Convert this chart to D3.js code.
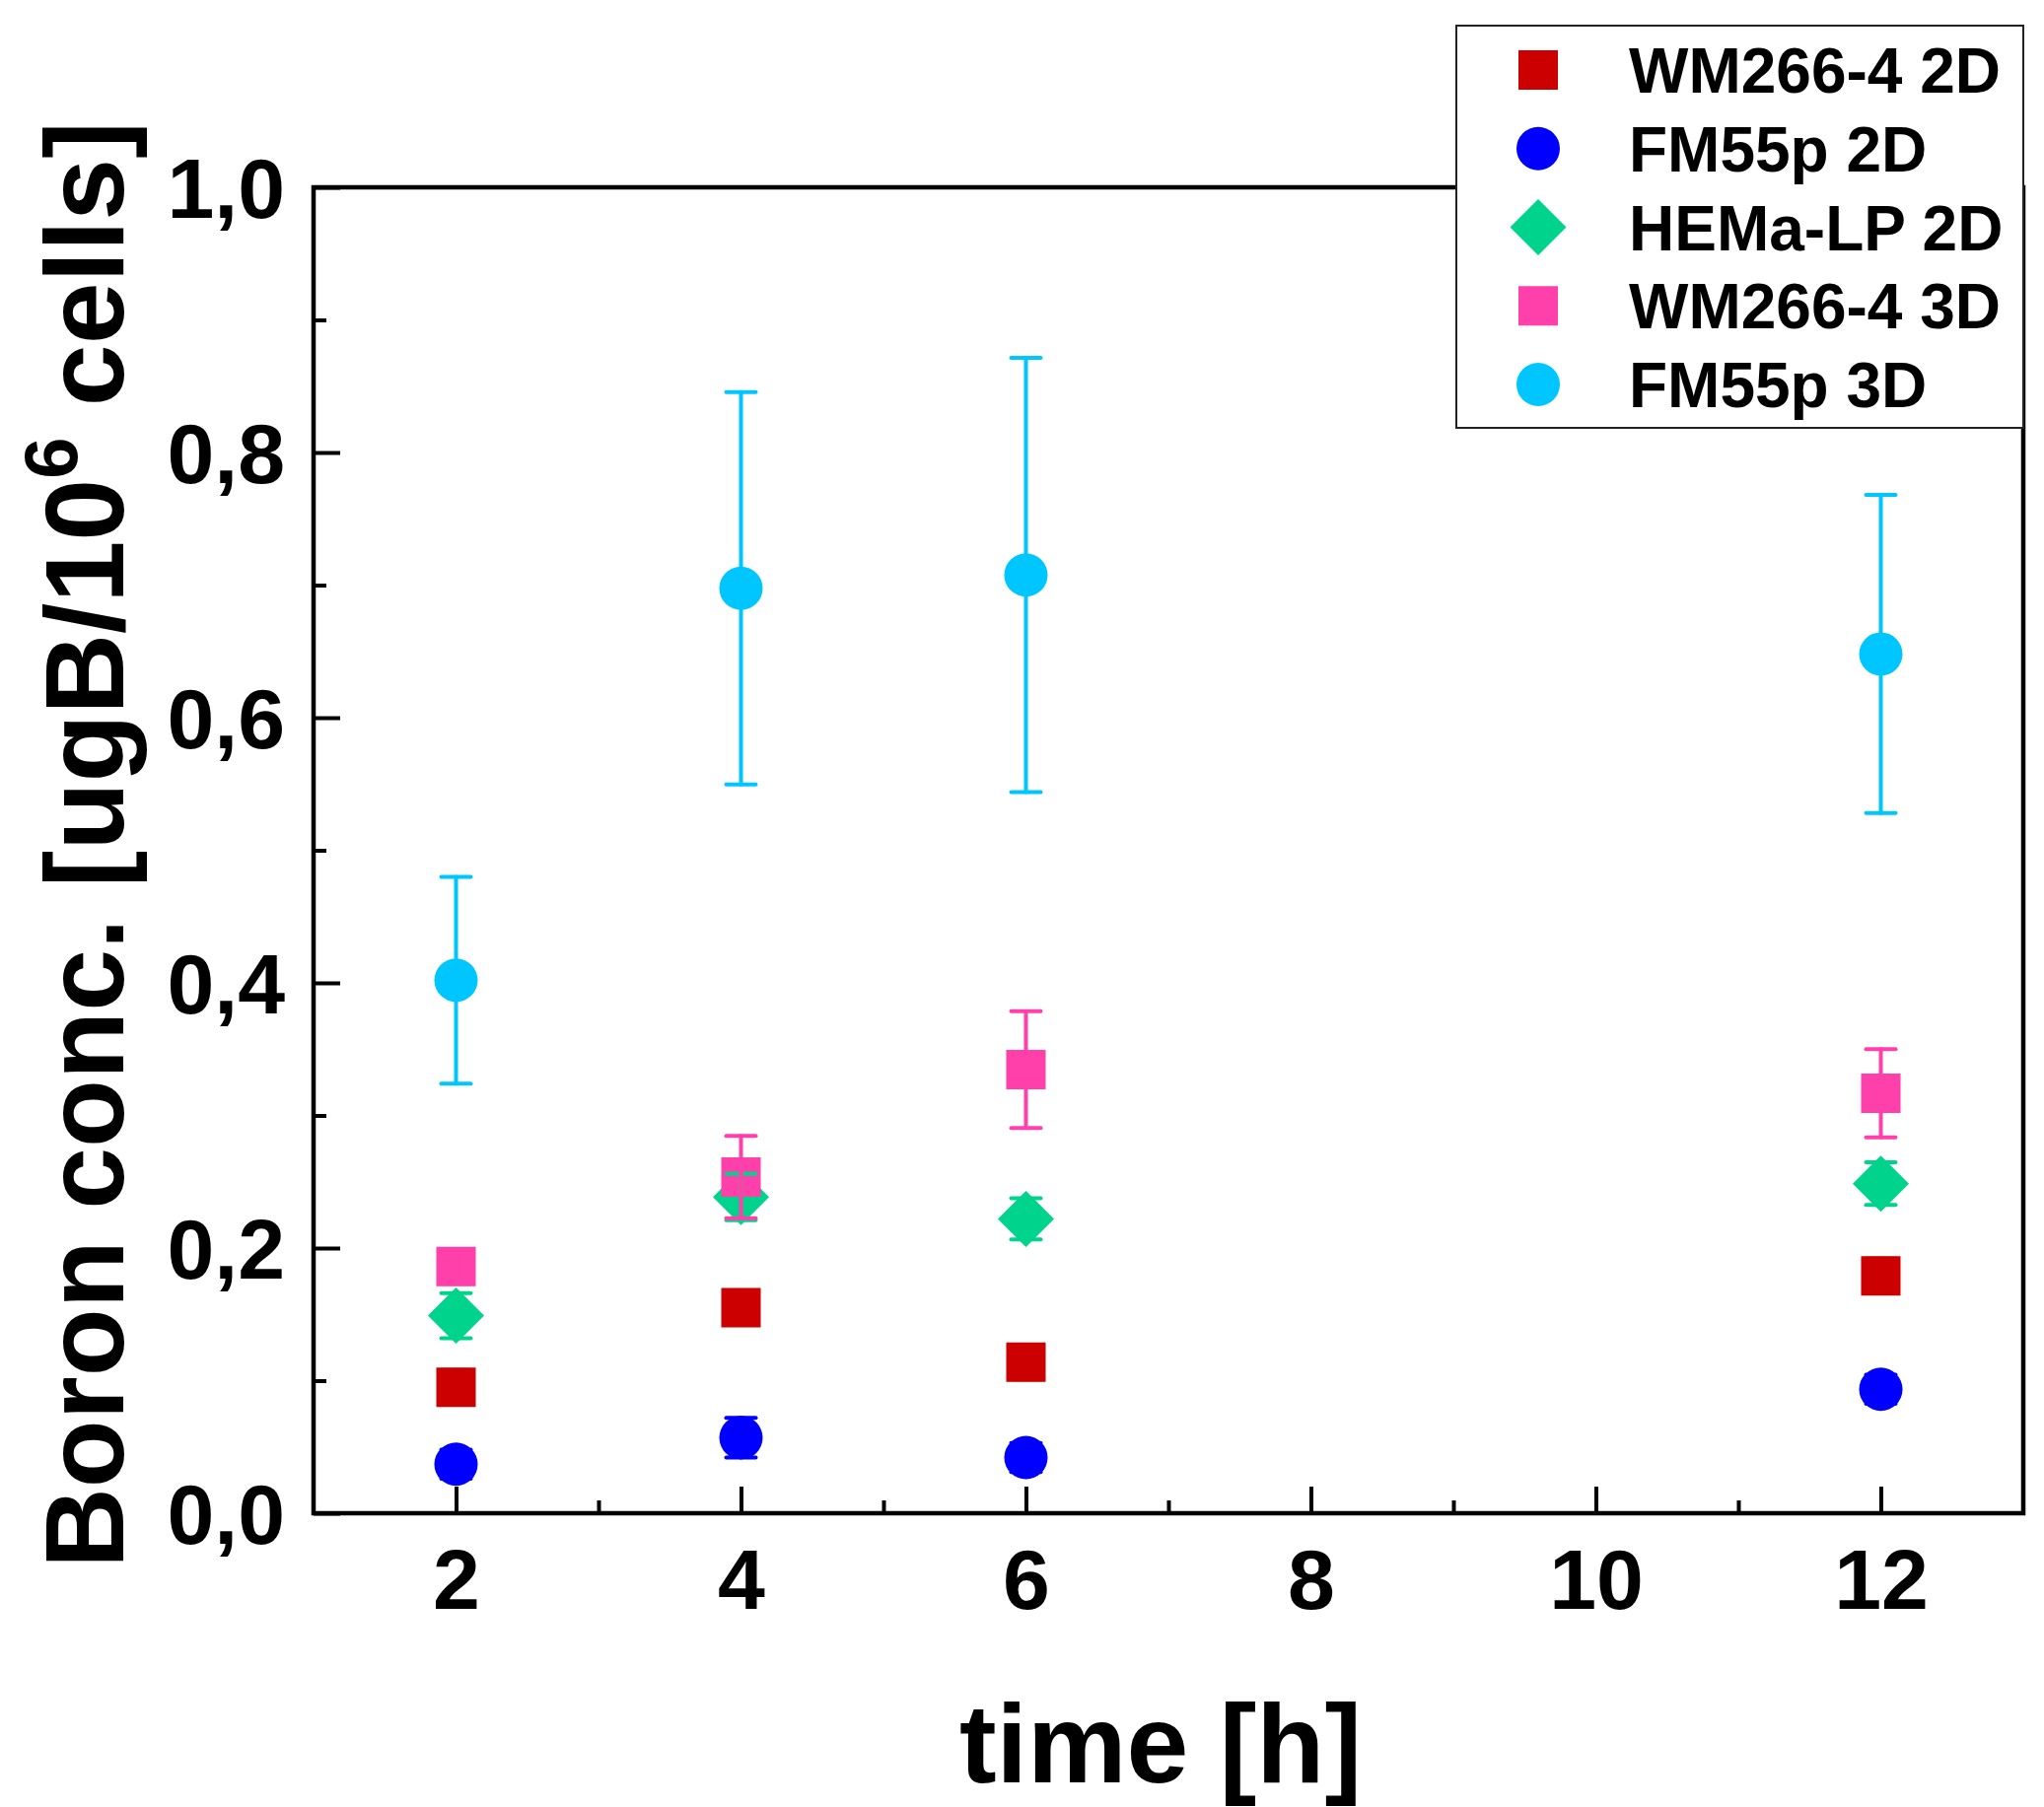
<!DOCTYPE html>
<html>
<head>
<meta charset="utf-8">
<script src="https://cdn.jsdelivr.net/npm/d3@7"></script>
<style>
  body { margin: 0; background: #fff; }
  svg text { font-family: "Liberation Sans", Arial, sans-serif; font-weight: bold; fill: #000; }
</style>
</head>
<body>
<div id="chart"></div>
<script>
// ---------------- data ----------------
var times = [2, 4, 6, 12];

var seriesNames = ["WM266-4 2D", "FM55p 2D", "HEMa-LP 2D", "WM266-4 3D", "FM55p 3D"];

var wm2D      = [0.095, 0.155, 0.114, 0.179];
var wm2DErr   = [0.013, 0.013, 0.013, 0.013];
var fm2D      = [0.037, 0.057, 0.042, 0.0935];
var fm2DErr   = [0.011, 0.015, 0.011, 0.011];
var hema2D    = [0.149, 0.2385, 0.222, 0.2486];
var hema2DErr = [0.017, 0.0175, 0.0155, 0.016];
var wm3D      = [0.186, 0.2535, 0.3346, 0.3167];
var wm3DErr   = [0.013, 0.031, 0.044, 0.0333];
var fm3D      = [0.402, 0.6976, 0.7076, 0.648];
var fm3DErr   = [0.078, 0.148, 0.1638, 0.12];

var xMajor = [2, 4, 6, 8, 10, 12];
var xMinor = [3, 5, 7, 9, 11];
var yMajor = [0, 0.2, 0.4, 0.6, 0.8, 1.0];
var yMinor = [0.1, 0.3, 0.5, 0.7, 0.9];

var colors = ["#cc0000", "#0000ff", "#00d38c", "#ff3faa", "#00c6ff"];
var shapes = ["square", "circle", "diamond", "square", "circle"];

var series = [
  {vals: wm2D, errs: wm2DErr},
  {vals: fm2D, errs: fm2DErr},
  {vals: hema2D, errs: hema2DErr},
  {vals: wm3D, errs: wm3DErr},
  {vals: fm3D, errs: fm3DErr}
].map(function(s, i) {
  return {
    name: seriesNames[i], color: colors[i], shape: shapes[i],
    points: times.map(function(t, j) { return {t: t, v: s.vals[j], e: s.errs[j]}; })
  };
});

// ---------------- layout ----------------
var W = 2073, H = 1833;
var plotL = 318, plotR = 2052, plotT = 190, plotB = 1535;

var svg = d3.select("#chart").append("svg")
    .attr("width", W).attr("height", H);

var x = d3.scaleLinear().domain([1, 13]).range([plotL, plotR]);
var y = d3.scaleLinear().domain([0, 1]).range([plotB, plotT]);

var comma = d3.formatLocale({decimal: ",", thousands: ".", grouping: [3], currency: ["", ""]}).format(".1f");

// x axis (ticks point into the plot)
svg.append("g")
    .attr("transform", "translate(0," + plotB + ")")
    .call(d3.axisBottom(x).tickValues(xMajor).tickSizeInner(-27).tickSizeOuter(0).tickPadding(36))
    .call(function(g) {
      g.select(".domain").remove();
      g.selectAll("line").attr("stroke", "#000").attr("stroke-width", 4);
      g.selectAll("text").attr("font-size", 86).attr("fill", "#000");
    });
svg.append("g")
    .attr("transform", "translate(0," + plotB + ")")
    .call(d3.axisBottom(x).tickValues(xMinor).tickSizeInner(-13).tickSizeOuter(0).tickFormat(""))
    .call(function(g) {
      g.select(".domain").remove();
      g.selectAll("line").attr("stroke", "#000").attr("stroke-width", 4);
    });

// y axis
svg.append("g")
    .attr("transform", "translate(" + plotL + ",0)")
    .call(d3.axisLeft(y).tickValues(yMajor).tickFormat(comma).tickSizeInner(-27).tickSizeOuter(0).tickPadding(29))
    .call(function(g) {
      g.select(".domain").remove();
      g.selectAll("line").attr("stroke", "#000").attr("stroke-width", 4);
      g.selectAll("text").attr("font-size", 86).attr("fill", "#000").attr("dy", "0.36em");
    });
svg.append("g")
    .attr("transform", "translate(" + plotL + ",0)")
    .call(d3.axisLeft(y).tickValues(yMinor).tickSizeInner(-13).tickSizeOuter(0).tickFormat(""))
    .call(function(g) {
      g.select(".domain").remove();
      g.selectAll("line").attr("stroke", "#000").attr("stroke-width", 4);
    });

// frame
svg.append("rect")
    .attr("x", plotL).attr("y", plotT)
    .attr("width", plotR - plotL).attr("height", plotB - plotT)
    .attr("fill", "none").attr("stroke", "#000").attr("stroke-width", 4.5);

// axis titles
svg.append("text")
    .attr("x", (plotL + plotR) / 2 - 8)
    .attr("y", 1808)
    .attr("text-anchor", "middle")
    .attr("font-size", 113)
    .text("time [h]");

var yt = svg.append("text")
    .attr("transform", "translate(125,857) rotate(-90)")
    .attr("text-anchor", "middle")
    .attr("font-size", 113);
yt.append("tspan").text("Boron conc. [ugB/10");
yt.append("tspan").attr("font-size", 76).attr("dy", -47).text("6");
yt.append("tspan").attr("dy", 47).text(" cells]");

// symbol helper
function symbolPath(shape) {
  if (shape === "circle") return d3.symbol(d3.symbolCircle, Math.PI * 22 * 22)();
  return d3.symbol(d3.symbolSquare, shape === "diamond" ? 1625 : 1600)();
}
function symbolTransform(shape, px, py) {
  return "translate(" + px + "," + py + ")" + (shape === "diamond" ? " rotate(45)" : "");
}

// symbols first, then all error bars on top (as in the original)
var symLayer = svg.append("g");
series.forEach(function(s) {
  symLayer.selectAll(null)
    .data(s.points)
    .enter().append("path")
      .attr("d", symbolPath(s.shape))
      .attr("transform", function(d) { return symbolTransform(s.shape, x(d.t), y(d.v)); })
      .attr("fill", s.color);
});

var errLayer = svg.append("g")
    .attr("stroke-width", 4)
    .attr("stroke-linecap", "round");
series.forEach(function(s) {
  var g = errLayer.append("g").attr("stroke", s.color);
  g.selectAll(null).data(s.points).enter().append("line")
      .attr("x1", function(d) { return x(d.t); })
      .attr("x2", function(d) { return x(d.t); })
      .attr("y1", function(d) { return y(d.v - d.e); })
      .attr("y2", function(d) { return y(d.v + d.e); });
  [-1, 1].forEach(function(sign) {
    g.selectAll(null).data(s.points).enter().append("line")
        .attr("x1", function(d) { return x(d.t) - 15; })
        .attr("x2", function(d) { return x(d.t) + 15; })
        .attr("y1", function(d) { return y(d.v + sign * d.e); })
        .attr("y2", function(d) { return y(d.v + sign * d.e); });
  });
});

// legend
var lg = svg.append("g");
lg.append("rect")
    .attr("x", 1477).attr("y", 26)
    .attr("width", plotR - 1477).attr("height", 434 - 26)
    .attr("fill", "#fff").attr("stroke", "#222").attr("stroke-width", 2);

var rowY = d3.scaleLinear().domain([0, 4]).range([71, 390]);
series.forEach(function(s, i) {
  lg.append("path")
      .attr("d", symbolPath(s.shape))
      .attr("transform", symbolTransform(s.shape, 1560, rowY(i)))
      .attr("fill", s.color);
  lg.append("text")
      .attr("x", 1652)
      .attr("y", rowY(i))
      .attr("dy", "0.36em")
      .attr("font-size", 64)
      .text(s.name);
});
</script>
</body>
</html>
